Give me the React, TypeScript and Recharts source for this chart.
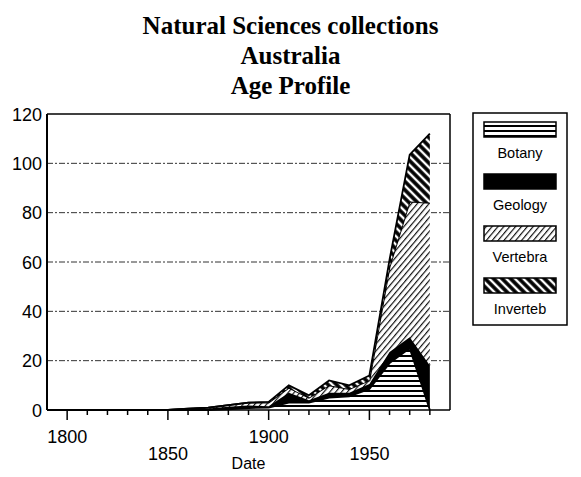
import React from 'react';
import { AreaChart, Area, XAxis, YAxis, CartesianGrid, ReferenceLine } from 'recharts';

const years = [1790, 1800, 1810, 1820, 1830, 1840, 1850, 1860, 1870, 1880, 1890, 1900, 1910, 1920, 1930, 1940, 1950, 1960, 1970, 1980];
const botany = [0, 0, 0, 0, 0, 0, 0, 0, 0, 0.3, 0.8, 1, 3, 3, 5, 5.5, 8.5, 19, 25, 0];
const geology = [0, 0, 0, 0, 0, 0, 0, 0.3, 0.6, 1, 1, 0.5, 4, 1, 2, 1.5, 2, 4.5, 4.5, 18];
const vertebra = [0, 0, 0, 0, 0, 0, 0, 0.2, 0.4, 0.7, 1.2, 1.5, 2, 1, 3, 1.5, 1.5, 34.5, 55, 66];
const inverteb = [0, 0, 0, 0, 0, 0, 0, 0, 0, 0, 0, 0.3, 1, 1, 2, 1.5, 2, 3, 19, 28];

const seriesNames = ['Botany', 'Geology', 'Vertebra', 'Inverteb'];
const yTicks = [0, 20, 40, 60, 80, 100, 120];
const xTicks = [1800, 1810, 1820, 1830, 1840, 1850, 1860, 1870, 1880, 1890, 1900, 1910, 1920, 1930, 1940, 1950, 1960, 1970, 1980];
const majorTicks = [1800, 1850, 1900, 1950];
const lowerRowTicks = [1850, 1950];
const titleLines = ['Natural Sciences collections', 'Australia', 'Age Profile'];

const data = years.map((year, i) => ({
  year,
  Botany: botany[i],
  Geology: geology[i],
  Vertebra: vertebra[i],
  Inverteb: inverteb[i],
}));

const fills: Record<string, string> = {
  Botany: 'pBotany',
  Geology: 'pGeology',
  Vertebra: 'pVert',
  Inverteb: 'pInv',
};

const tickFont = '"Liberation Sans", Arial, sans-serif';

const Patterns = ({ prefix }: { prefix: string }) => (
  <defs>
    <pattern id={prefix + 'pBotany'} width="8" height="5" patternUnits="userSpaceOnUse">
      <rect width="8" height="5" fill="#fff" />
      <rect y="0" width="8" height="2" fill="#000" />
    </pattern>
    <pattern id={prefix + 'pGeology'} width="4" height="4" patternUnits="userSpaceOnUse">
      <rect width="4" height="4" fill="#000" />
    </pattern>
    <pattern id={prefix + 'pVert'} width="4.5" height="4.5" patternUnits="userSpaceOnUse" patternTransform="rotate(40)">
      <rect width="4.5" height="4.5" fill="#fff" />
      <line x1="0.6" y1="0" x2="0.6" y2="4.5" stroke="#000" strokeWidth="1.1" />
    </pattern>
    <pattern id={prefix + 'pInv'} width="6" height="6" patternUnits="userSpaceOnUse" patternTransform="rotate(-45)">
      <rect width="6" height="6" fill="#fff" />
      <line x1="2" y1="0" x2="2" y2="6" stroke="#000" strokeWidth="3.6" />
    </pattern>
  </defs>
);

const XTick = (props: any) => {
  const { x, y, payload } = props;
  const v = payload.value;
  const major = majorTicks.includes(v);
  const lower = lowerRowTicks.includes(v);
  return (
    <g>
      <line x1={x} x2={x} y1={y} y2={y + (major ? 10 : 5)} stroke="#000" strokeWidth={1.5} />
      {major && (
        <text x={x} y={y + (lower ? 50 : 33)} textAnchor="middle" fontFamily={tickFont} fontSize={18} fill="#000">
          {v}
        </text>
      )}
    </g>
  );
};

const YTick = (props: any) => {
  const { x, y, payload } = props;
  return (
    <text x={x} y={y} dy={6.5} textAnchor="end" fontFamily={tickFont} fontSize={18} fill="#000">
      {payload.value}
    </text>
  );
};

const Legend = () => {
  const boxLeft = 473;
  const boxTop = 113;
  const boxW = 94;
  const itemH = 52;
  return (
    <svg width={581} height={477} style={{ position: 'absolute', left: 0, top: 0, pointerEvents: 'none' }}>
      <Patterns prefix="lg" />
      <rect x={boxLeft} y={boxTop} width={boxW} height={212} fill="#fff" stroke="#000" strokeWidth={1.5} />
      {seriesNames.map((name, i) => (
        <g key={name}>
          <rect
            x={boxLeft + 11}
            y={boxTop + 9 + i * itemH}
            width={boxW - 22}
            height={15}
            fill={`url(#lg${fills[name]})`}
            stroke="#000"
            strokeWidth={1.5}
          />
          <text
            x={boxLeft + boxW / 2}
            y={boxTop + 45 + i * itemH}
            textAnchor="middle"
            fontFamily={tickFont}
            fontSize={14.5}
            fill="#000"
          >
            {name}
          </text>
        </g>
      ))}
    </svg>
  );
};

export default function App() {
  return (
    <div style={{ position: 'absolute', left: 0, top: 0, width: 581, height: 477, background: '#fff' }}>
      <div
        style={{
          position: 'absolute',
          left: 0,
          top: 11,
          width: 581,
          textAlign: 'center',
          fontFamily: '"Liberation Serif", "Times New Roman", serif',
          fontWeight: 'bold',
          fontSize: 25,
          lineHeight: '30px',
        }}
      >
        {titleLines.map((t) => (
          <div key={t}>{t}</div>
        ))}
      </div>
      <div style={{ position: 'absolute', left: 0, top: 0 }}>
        <AreaChart width={581} height={477} data={data} margin={{ top: 114, right: 131, bottom: 0, left: 7 }}>
          <Patterns prefix="" />
          <CartesianGrid vertical={false} stroke="#333" strokeDasharray="6 2 2 2" horizontalValues={[20, 40, 60, 80, 100]} />
          <XAxis
            dataKey="year"
            type="number"
            domain={[1790, 1990]}
            ticks={xTicks}
            tick={<XTick />}
            tickLine={false}
            tickSize={0}
            tickMargin={0}
            height={67}
            interval={0}
            axisLine={{ stroke: '#000', strokeWidth: 1.5 }}
            label={{ value: 'Date', position: 'insideBottom', offset: 8, fontFamily: tickFont, fontSize: 16, fill: '#000' }}
          />
          <YAxis
            type="number"
            domain={[0, 120]}
            ticks={yTicks}
            tick={<YTick />}
            tickLine={false}
            tickSize={0}
            tickMargin={5}
            width={40}
            interval={0}
            axisLine={{ stroke: '#000', strokeWidth: 2 }}
          />
          <ReferenceLine y={120} stroke="#000" strokeWidth={1.5} />
          <ReferenceLine x={1990} stroke="#000" strokeWidth={1.5} />
          {seriesNames.map((name) => (
            <Area
              key={name}
              type="linear"
              dataKey={name}
              stackId="1"
              stroke="#000"
              strokeWidth={1.8}
              fill={`url(#${fills[name]})`}
              fillOpacity={1}
              isAnimationActive={false}
            />
          ))}
        </AreaChart>
      </div>
      <Legend />
    </div>
  );
}
